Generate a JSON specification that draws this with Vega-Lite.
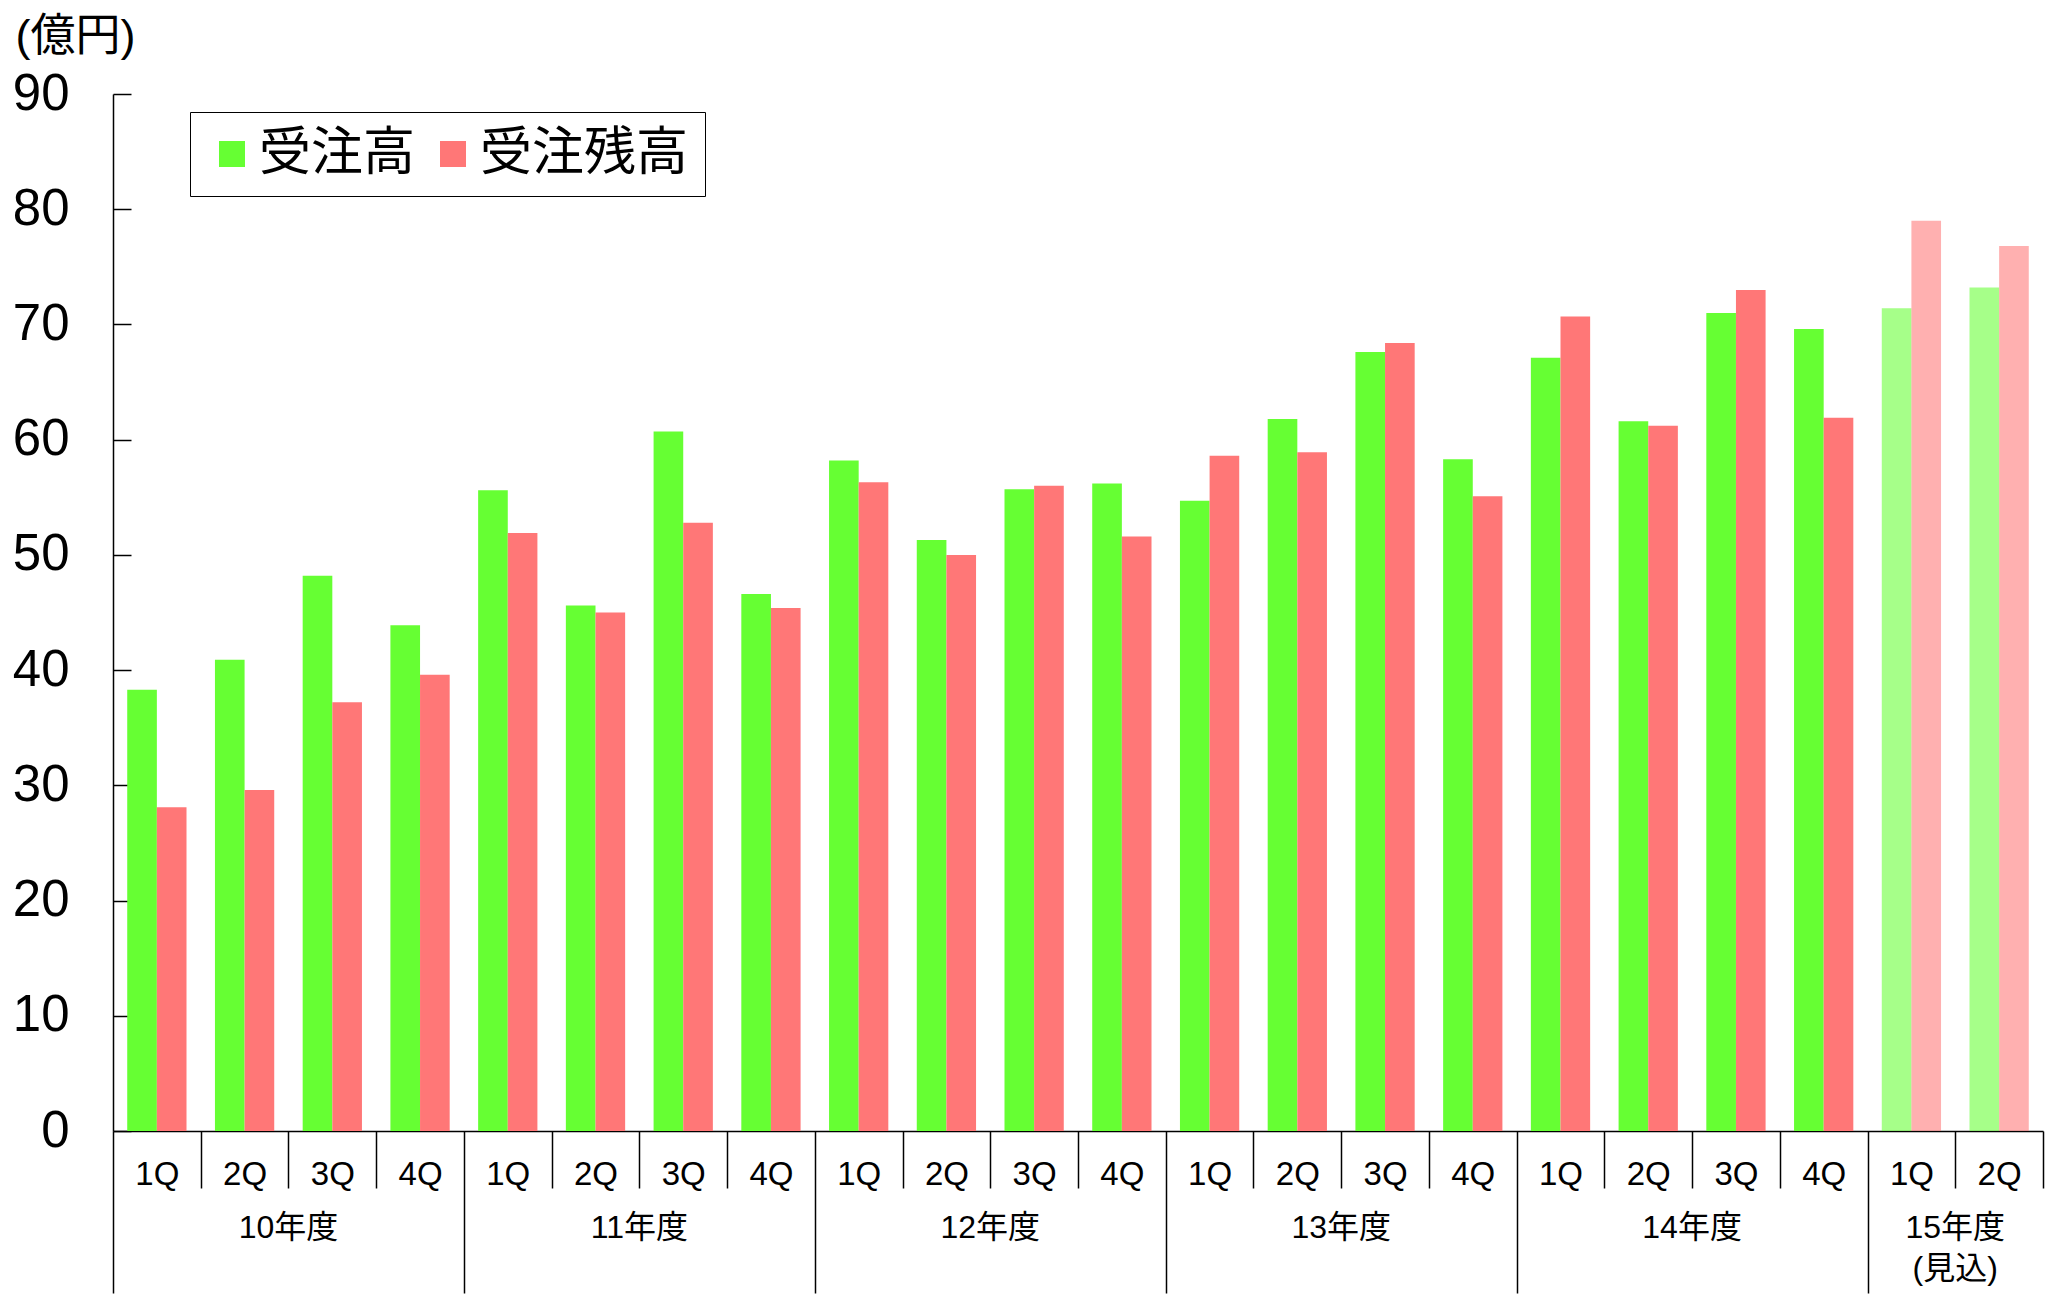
{
  "$schema": "https://vega.github.io/schema/vega-lite/v6.json",
  "width": 1930,
  "height": 1037,
  "autosize": "none",
  "padding": {"left": 113, "top": 94, "right": 4, "bottom": 163},
  "background": "white",
  "config": {
    "view": {"stroke": null},
    "font": "Liberation Sans, Noto Sans CJK JP",
    "axis": {"domainColor": "black", "tickColor": "black", "labelColor": "black", "titleColor": "black", "domainWidth": 1.5, "tickWidth": 1.5, "grid": false, "labelFont": "Liberation Sans, Noto Sans CJK JP", "titleFont": "Liberation Sans, Noto Sans CJK JP"},
    "legend": {"labelFont": "Liberation Sans, Noto Sans CJK JP"}
  },
  "data": {
    "values": [
      {"period": "10-1Q", "series": "受注高", "value": 38.3, "status": "実績"},
      {"period": "10-1Q", "series": "受注残高", "value": 28.1, "status": "実績"},
      {"period": "10-2Q", "series": "受注高", "value": 40.9, "status": "実績"},
      {"period": "10-2Q", "series": "受注残高", "value": 29.6, "status": "実績"},
      {"period": "10-3Q", "series": "受注高", "value": 48.2, "status": "実績"},
      {"period": "10-3Q", "series": "受注残高", "value": 37.2, "status": "実績"},
      {"period": "10-4Q", "series": "受注高", "value": 43.9, "status": "実績"},
      {"period": "10-4Q", "series": "受注残高", "value": 39.6, "status": "実績"},
      {"period": "11-1Q", "series": "受注高", "value": 55.6, "status": "実績"},
      {"period": "11-1Q", "series": "受注残高", "value": 51.9, "status": "実績"},
      {"period": "11-2Q", "series": "受注高", "value": 45.6, "status": "実績"},
      {"period": "11-2Q", "series": "受注残高", "value": 45.0, "status": "実績"},
      {"period": "11-3Q", "series": "受注高", "value": 60.7, "status": "実績"},
      {"period": "11-3Q", "series": "受注残高", "value": 52.8, "status": "実績"},
      {"period": "11-4Q", "series": "受注高", "value": 46.6, "status": "実績"},
      {"period": "11-4Q", "series": "受注残高", "value": 45.4, "status": "実績"},
      {"period": "12-1Q", "series": "受注高", "value": 58.2, "status": "実績"},
      {"period": "12-1Q", "series": "受注残高", "value": 56.3, "status": "実績"},
      {"period": "12-2Q", "series": "受注高", "value": 51.3, "status": "実績"},
      {"period": "12-2Q", "series": "受注残高", "value": 50.0, "status": "実績"},
      {"period": "12-3Q", "series": "受注高", "value": 55.7, "status": "実績"},
      {"period": "12-3Q", "series": "受注残高", "value": 56.0, "status": "実績"},
      {"period": "12-4Q", "series": "受注高", "value": 56.2, "status": "実績"},
      {"period": "12-4Q", "series": "受注残高", "value": 51.6, "status": "実績"},
      {"period": "13-1Q", "series": "受注高", "value": 54.7, "status": "実績"},
      {"period": "13-1Q", "series": "受注残高", "value": 58.6, "status": "実績"},
      {"period": "13-2Q", "series": "受注高", "value": 61.8, "status": "実績"},
      {"period": "13-2Q", "series": "受注残高", "value": 58.9, "status": "実績"},
      {"period": "13-3Q", "series": "受注高", "value": 67.6, "status": "実績"},
      {"period": "13-3Q", "series": "受注残高", "value": 68.4, "status": "実績"},
      {"period": "13-4Q", "series": "受注高", "value": 58.3, "status": "実績"},
      {"period": "13-4Q", "series": "受注残高", "value": 55.1, "status": "実績"},
      {"period": "14-1Q", "series": "受注高", "value": 67.1, "status": "実績"},
      {"period": "14-1Q", "series": "受注残高", "value": 70.7, "status": "実績"},
      {"period": "14-2Q", "series": "受注高", "value": 61.6, "status": "実績"},
      {"period": "14-2Q", "series": "受注残高", "value": 61.2, "status": "実績"},
      {"period": "14-3Q", "series": "受注高", "value": 71.0, "status": "実績"},
      {"period": "14-3Q", "series": "受注残高", "value": 73.0, "status": "実績"},
      {"period": "14-4Q", "series": "受注高", "value": 69.6, "status": "実績"},
      {"period": "14-4Q", "series": "受注残高", "value": 61.9, "status": "実績"},
      {"period": "15-1Q", "series": "受注高", "value": 71.4, "status": "見込"},
      {"period": "15-1Q", "series": "受注残高", "value": 79.0, "status": "見込"},
      {"period": "15-2Q", "series": "受注高", "value": 73.2, "status": "見込"},
      {"period": "15-2Q", "series": "受注残高", "value": 76.8, "status": "見込"}
    ]
  },
  "encoding": {
    "y": {
      "field": "value",
      "type": "quantitative",
      "scale": {"domain": [0, 90], "nice": false},
      "axis": {
        "values": [0, 10, 20, 30, 40, 50, 60, 70, 80, 90],
        "tickSize": -18,
        "labelPadding": 62,
        "labelFontSize": 51,
        "labelFont": "Liberation Sans",
        "title": "(億円)",
        "titleAngle": 0,
        "titleFontSize": 45,
        "titleFontWeight": "normal",
        "titleAlign": "left",
        "titleBaseline": "top",
        "titleX": -98,
        "titleY": -80
      }
    },
    "xOffset": {
      "field": "series",
      "type": "nominal",
      "scale": {"domain": ["受注高", "受注残高"], "paddingOuter": 0.48, "paddingInner": 0}
    },
    "color": {
      "field": "series",
      "type": "nominal",
      "scale": {"domain": ["受注高", "受注残高"], "range": ["#66FF33", "#FF7777"]},
      "legend": {
        "orient": "none",
        "legendX": 77,
        "legendY": 18,
        "direction": "horizontal",
        "title": null,
        "strokeColor": "black",
        "fillColor": "white",
        "padding": 16,
        "symbolType": "square",
        "symbolSize": 676,
        "symbolStrokeWidth": 0,
        "symbolOpacity": 1,
        "labelFontSize": 52,
        "labelColor": "black",
        "labelOffset": 1,
        "columnPadding": 11,
        "labelLimit": 500
      }
    },
    "opacity": {
      "field": "status",
      "type": "nominal",
      "scale": {"domain": ["実績", "見込"], "range": [1, 0.58]},
      "legend": null
    }
  },
  "layer": [
    {
      "transform": [{"filter": "datum.series == '受注高'"}],
      "mark": {"type": "bar"},
      "encoding": {
        "x": {
          "field": "period",
          "type": "ordinal",
          "sort": null,
          "scale": {"paddingInner": 0, "paddingOuter": 0},
          "axis": {
            "orient": "bottom",
            "title": null,
            "tickBand": "extent",
            "tickSize": {"condition": {"test": "!isString(datum.value) || indexof(datum.value, '4Q') >= 0", "value": 162}, "value": 57},
            "labelPadding": {"condition": {"test": "!isString(datum.value) || indexof(datum.value, '4Q') >= 0", "value": -135}, "value": -30},
            "labelFontSize": 33,
            "labelAngle": 0,
            "labelBaseline": "top",
            "labelOverlap": false,
            "labelExpr": "isString(datum.value) ? split(datum.value, '-')[1] : ''"
          }
        }
      }
    },
    {
      "transform": [{"filter": "datum.series == '受注残高'"}],
      "mark": {"type": "bar"},
      "encoding": {
        "x": {
          "field": "period",
          "type": "ordinal",
          "sort": null,
          "scale": {"paddingInner": 0, "paddingOuter": 0},
          "axis": {
            "orient": "bottom",
            "title": null,
            "values": ["10-2Q", "11-2Q", "12-2Q", "13-2Q", "14-2Q", "15-1Q"],
            "ticks": false,
            "tickSize": 0,
            "domain": false,
            "labelPadding": 81,
            "labelFontSize": 32,
            "labelLineHeight": 41,
            "labelAngle": 0,
            "labelBaseline": "top",
            "labelOverlap": false,
            "labelFlush": false,
            "labelBound": false,
            "labelOffset": 43.86,
            "labelExpr": "!isString(datum.value) ? '' : datum.value == '15-1Q' ? ['15年度', '(見込)'] : slice(datum.value, 0, 2) + '年度'"
          }
        }
      }
    }
  ],
  "resolve": {"axis": {"x": "independent"}}
}
